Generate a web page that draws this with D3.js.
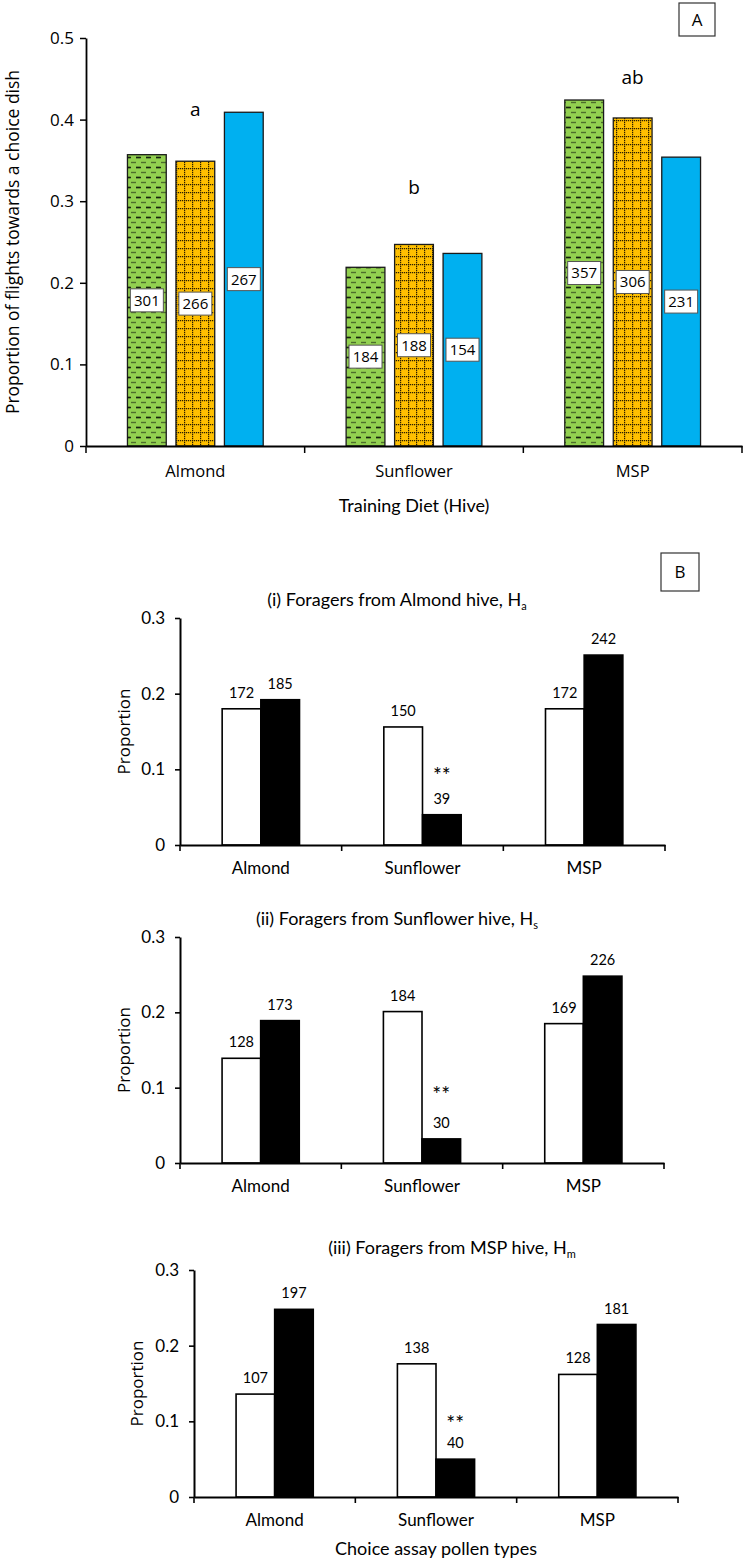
<!DOCTYPE html>
<html>
<head>
<meta charset="utf-8">
<script src="https://cdn.jsdelivr.net/npm/d3@7"></script>
<style>
  body { margin: 0; background: #fff; }
  svg text { fill: #000; }
</style>
</head>
<body>
<div id="chart"></div>
<script>
// ---- panel A data ----
const diets = ['Almond', 'Sunflower', 'MSP'];
const seriesA = ['green', 'orange', 'blue'];
const greenVals = [0.357, 0.219, 0.424];
const orangeVals = [0.349, 0.247, 0.402];
const blueVals = [0.409, 0.236, 0.354];
const greenN = [301, 184, 357];
const orangeN = [266, 188, 306];
const blueN = [267, 154, 231];
const groupLetters = ['a', 'b', 'ab'];
const letterLevels = [0.412, 0.317, 0.452];
const ticksA = [0, 0.1, 0.2, 0.3, 0.4, 0.5];

// ---- panel B data ----
const choiceTypes = ['Almond', 'Sunflower', 'MSP'];
const ticksB = [0, 0.1, 0.2, 0.3];
const starMarks = ['', '**', ''];
const haWhite = [0.180, 0.156, 0.180];
const haBlack = [0.192, 0.040, 0.251];
const haWhiteN = [172, 150, 172];
const haBlackN = [185, 39, 242];
const hsWhite = [0.139, 0.201, 0.185];
const hsBlack = [0.189, 0.032, 0.248];
const hsWhiteN = [128, 184, 169];
const hsBlackN = [173, 30, 226];
const hmWhite = [0.136, 0.176, 0.162];
const hmBlack = [0.248, 0.050, 0.228];
const hmWhiteN = [107, 138, 128];
const hmBlackN = [197, 40, 181];

const w = 746;
const h = 1562;
const fontA = '"Open Sans", sans-serif';
const fontB = 'Lato, sans-serif';

const svg = d3.select('#chart')
  .append('svg')
  .attr('width', w)
  .attr('height', h);

// patterns
const defs = svg.append('defs');
const pg = defs.append('pattern')
  .attr('id', 'dashH')
  .attr('patternUnits', 'userSpaceOnUse')
  .attr('width', 10)
  .attr('height', 10);
pg.append('rect').attr('width', 10).attr('height', 10).attr('fill', '#92D050');
pg.append('line').attr('x1', 1).attr('x2', 6).attr('y1', 2.5).attr('y2', 2.5)
  .attr('stroke', '#1e2a12').attr('stroke-width', 1.4).attr('opacity', 0.6);
pg.append('line').attr('x1', 6).attr('x2', 11).attr('y1', 7.5).attr('y2', 7.5)
  .attr('stroke', '#10180a').attr('stroke-width', 1.7).attr('opacity', 0.95);
pg.append('line').attr('x1', -4).attr('x2', 1).attr('y1', 7.5).attr('y2', 7.5)
  .attr('stroke', '#10180a').attr('stroke-width', 1.7).attr('opacity', 0.95);

const po = defs.append('pattern')
  .attr('id', 'dotGrid')
  .attr('patternUnits', 'userSpaceOnUse')
  .attr('width', 8)
  .attr('height', 8);
po.append('rect').attr('width', 8).attr('height', 8).attr('fill', '#FFC000');
po.append('line').attr('x1', 0).attr('x2', 8).attr('y1', 0.6).attr('y2', 0.6)
  .attr('stroke', '#2a1e00').attr('stroke-width', 1.2).attr('stroke-dasharray', '1.2,0.8');
po.append('line').attr('x1', 0.6).attr('x2', 0.6).attr('y1', 0).attr('y2', 8)
  .attr('stroke', '#2a1e00').attr('stroke-width', 1.2).attr('stroke-dasharray', '1.2,0.8');

const fills = {green: 'url(#dashH)', orange: 'url(#dotGrid)', blue: '#00B0F0'};

// ================= panel A =================
const xA = d3.scaleBand().domain(diets).range([86, 742]);
const innerA = d3.scaleBand().domain(seriesA).range([0, xA.bandwidth()])
  .paddingInner(0.2).paddingOuter(0.855);
const yA = d3.scaleLinear().domain([0, 0.5]).range([446, 38]);

const dataA = diets.flatMap((d, i) => [
  {diet: d, s: 'green', v: greenVals[i], n: greenN[i]},
  {diet: d, s: 'orange', v: orangeVals[i], n: orangeN[i]},
  {diet: d, s: 'blue', v: blueVals[i], n: blueN[i]}
]);

const gA = svg.append('g');
gA.selectAll('rect.bar')
  .data(dataA)
  .enter()
  .append('rect')
  .attr('class', 'bar')
  .attr('x', d => xA(d.diet) + innerA(d.s))
  .attr('y', d => yA(d.v))
  .attr('width', innerA.bandwidth())
  .attr('height', d => yA(0) - yA(d.v))
  .attr('fill', d => fills[d.s])
  .attr('stroke', '#1a1a1a')
  .attr('stroke-width', 1.3);

// count boxes at mid-height of each bar
const boxes = gA.selectAll('g.nbox')
  .data(dataA)
  .enter()
  .append('g')
  .attr('class', 'nbox')
  .attr('transform', d => `translate(${xA(d.diet) + innerA(d.s) + innerA.bandwidth() / 2},${yA(d.v / 2)})`);
boxes.append('rect')
  .attr('x', -16.5).attr('y', -11.5)
  .attr('width', 33).attr('height', 23)
  .attr('fill', '#fff')
  .attr('stroke', '#555')
  .attr('stroke-width', 1);
boxes.append('text')
  .attr('text-anchor', 'middle')
  .attr('dy', '0.36em')
  .style('font-family', fontA)
  .style('font-size', '15px')
  .text(d => d.n);

// letters
gA.selectAll('text.letter')
  .data(groupLetters)
  .enter()
  .append('text')
  .attr('class', 'letter')
  .attr('x', (d, i) => xA(diets[i]) + xA.bandwidth() / 2)
  .attr('y', (d, i) => yA(letterLevels[i]))
  .attr('dy', '0.35em')
  .attr('text-anchor', 'middle')
  .style('font-family', fontA)
  .style('font-size', '19px')
  .text(d => d);

// y axis A
gA.append('g')
  .attr('transform', 'translate(86,0)')
  .call(d3.axisLeft(yA).tickValues(ticksA).tickSize(6).tickSizeOuter(0).tickPadding(6)
    .tickFormat(d => d === 0 ? '0' : d.toFixed(1)))
  .call(g => g.select('.domain').attr('stroke-width', 1.8))
  .call(g => g.selectAll('.tick line').attr('stroke-width', 1.5))
  .call(g => g.selectAll('.tick text').style('font-family', fontA).style('font-size', '17px').attr('fill', '#000'));

// x axis A
gA.append('g')
  .attr('transform', 'translate(0,446)')
  .call(d3.axisBottom(xA).tickSize(0).tickSizeOuter(0))
  .call(g => g.select('.domain').attr('stroke-width', 1.8))
  .call(g => g.selectAll('.tick text').attr('y', 25).attr('dy', '0.35em')
    .style('font-family', fontA).style('font-size', '16.5px').attr('fill', '#000'));
gA.selectAll('line.bound')
  .data(diets.map(d => xA(d)).concat([xA.range()[1]]))
  .enter()
  .append('line')
  .attr('class', 'bound')
  .attr('x1', d => d).attr('x2', d => d)
  .attr('y1', 446).attr('y2', 453)
  .attr('stroke', '#000').attr('stroke-width', 1.5);

gA.append('text')
  .attr('transform', `translate(13,${(yA(0) + yA(0.5)) / 2}) rotate(-90)`)
  .attr('text-anchor', 'middle')
  .attr('dy', '0.35em')
  .style('font-family', fontA)
  .style('font-size', '17.5px')
  .text('Proportion of flights towards a choice dish');

gA.append('text')
  .attr('x', (xA.range()[0] + xA.range()[1]) / 2)
  .attr('y', 506)
  .attr('dy', '0.35em')
  .attr('text-anchor', 'middle')
  .style('font-family', fontB)
  .style('font-size', '18px')
  .text('Training Diet (Hive)');

gA.append('rect').attr('x', 679).attr('y', 3).attr('width', 36).attr('height', 33)
  .attr('fill', '#fff').attr('stroke', '#333').attr('stroke-width', 1.2);
gA.append('text').attr('x', 697).attr('y', 20).attr('dy', '0.35em')
  .attr('text-anchor', 'middle').style('font-family', fontA).style('font-size', '17px').text('A');

// ================= panel B =================
svg.append('rect').attr('x', 661).attr('y', 553).attr('width', 38).attr('height', 38)
  .attr('fill', '#fff').attr('stroke', '#333').attr('stroke-width', 1.2);
svg.append('text').attr('x', 680).attr('y', 572).attr('dy', '0.35em')
  .attr('text-anchor', 'middle').style('font-family', fontA).style('font-size', '17px').text('B');

function drawPanel(cfg) {
  const x = d3.scaleBand().domain(choiceTypes).range([cfg.x0, cfg.x1]);
  const inner = d3.scaleBand().domain(['white', 'black']).range([0, x.bandwidth()])
    .paddingInner(0).paddingOuter(1.09);
  const y = d3.scaleLinear().domain([0, 0.3]).range([cfg.yBottom, cfg.yTop]);
  const g = svg.append('g');

  const rows = choiceTypes.flatMap((c, i) => [
    {c: c, s: 'white', v: cfg.white[i], n: cfg.whiteN[i], star: ''},
    {c: c, s: 'black', v: cfg.black[i], n: cfg.blackN[i], star: starMarks[i]}
  ]);

  g.selectAll('rect')
    .data(rows)
    .enter()
    .append('rect')
    .attr('x', d => x(d.c) + inner(d.s))
    .attr('y', d => y(d.v))
    .attr('width', inner.bandwidth())
    .attr('height', d => y(0) - y(d.v))
    .attr('fill', d => d.s === 'white' ? '#fff' : '#000')
    .attr('stroke', '#000')
    .attr('stroke-width', 1.6);

  g.selectAll('text.n')
    .data(rows)
    .enter()
    .append('text')
    .attr('class', 'n')
    .attr('x', d => x(d.c) + inner(d.s) + inner.bandwidth() / 2)
    .attr('y', d => y(d.v) - 16)
    .attr('dy', '0.35em')
    .attr('text-anchor', 'middle')
    .style('font-family', fontB)
    .style('font-size', '14.5px')
    .text(d => d.n);

  g.selectAll('text.star')
    .data(rows.filter(d => d.star))
    .enter()
    .append('text')
    .attr('class', 'star')
    .attr('x', d => x(d.c) + inner(d.s) + inner.bandwidth() / 2)
    .attr('y', d => y(d.v) - 16 - cfg.starGap)
    .attr('dy', '0.62em')
    .attr('text-anchor', 'middle')
    .style('font-family', fontB)
    .style('font-size', '21px')
    .text(d => d.star);

  g.append('g')
    .attr('transform', `translate(${cfg.x0},0)`)
    .call(d3.axisLeft(y).tickValues(ticksB).tickSize(5).tickSizeOuter(0).tickPadding(10)
      .tickFormat(d => d === 0 ? '0' : d.toFixed(1)))
    .call(a => a.select('.domain').attr('stroke-width', 2))
    .call(a => a.selectAll('.tick line').attr('stroke-width', 1.6))
    .call(a => a.selectAll('.tick text').style('font-family', fontB).style('font-size', '17px').attr('fill', '#000'));

  g.append('g')
    .attr('transform', `translate(0,${cfg.yBottom})`)
    .call(d3.axisBottom(x).tickSize(0).tickSizeOuter(0))
    .call(a => a.select('.domain').attr('stroke-width', 2))
    .call(a => a.selectAll('.tick text').attr('y', 23).attr('dy', '0.35em')
      .style('font-family', fontB).style('font-size', '17px').attr('fill', '#000'));
  g.selectAll('line.bound')
    .data(choiceTypes.map(d => x(d)).concat([x.range()[1]]))
    .enter()
    .append('line')
    .attr('class', 'bound')
    .attr('x1', d => d).attr('x2', d => d)
    .attr('y1', cfg.yBottom).attr('y2', cfg.yBottom + 6)
    .attr('stroke', '#000').attr('stroke-width', 1.6);

  const t = g.append('text')
    .attr('x', cfg.titleX)
    .attr('y', cfg.titleY)
    .attr('dy', '0.35em')
    .attr('text-anchor', 'middle')
    .style('font-family', fontB)
    .style('font-size', '18px');
  t.append('tspan').text(cfg.title);
  t.append('tspan').attr('baseline-shift', '-4').style('font-size', '11px').text(cfg.sub);

  g.append('text')
    .attr('transform', `translate(${cfg.labelX},${(cfg.yTop + cfg.yBottom) / 2}) rotate(-90)`)
    .attr('text-anchor', 'middle')
    .attr('dy', '0.35em')
    .style('font-family', fontA)
    .style('font-size', '17px')
    .text('Proportion');

  if (cfg.xTitle) {
    g.append('text')
      .attr('x', (cfg.x0 + cfg.x1) / 2)
      .attr('y', cfg.yBottom + 52)
      .attr('dy', '0.35em')
      .attr('text-anchor', 'middle')
      .style('font-family', fontB)
      .style('font-size', '18px')
      .text(cfg.xTitle);
  }
}

drawPanel({white: haWhite, black: haBlack, whiteN: haWhiteN, blackN: haBlackN,
  title: '(i) Foragers from Almond hive, H', sub: 'a',
  x0: 180, x1: 665, yTop: 618, yBottom: 845, titleX: 397, titleY: 600, labelX: 124, starGap: 29});
drawPanel({white: hsWhite, black: hsBlack, whiteN: hsWhiteN, blackN: hsBlackN,
  title: '(ii) Foragers from Sunflower hive, H', sub: 's',
  x0: 180, x1: 664, yTop: 937, yBottom: 1163, titleX: 397, titleY: 919, labelX: 124, starGap: 34});
drawPanel({white: hmWhite, black: hmBlack, whiteN: hmWhiteN, blackN: hmBlackN,
  title: '(iii) Foragers from MSP hive, H', sub: 'm',
  x0: 194, x1: 678, yTop: 1270, yBottom: 1497, titleX: 452, titleY: 1248, labelX: 137, starGap: 25,
  xTitle: 'Choice assay pollen types'});
</script>
</body>
</html>
